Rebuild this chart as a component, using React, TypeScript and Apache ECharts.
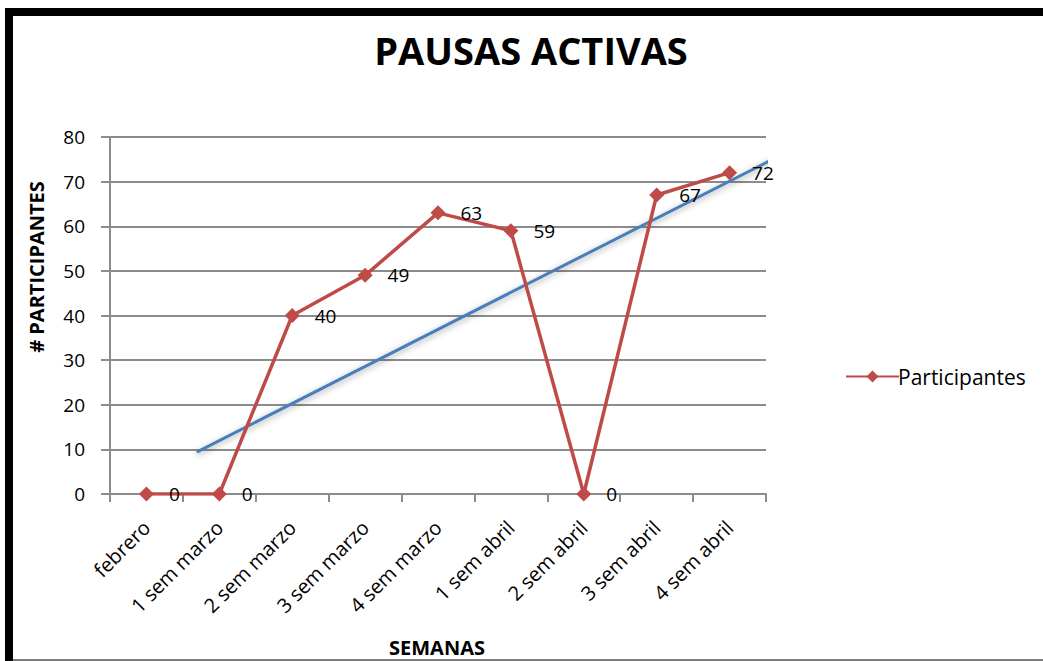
import React, { useEffect, useRef } from "react";
import * as echarts from "echarts";

const categories = [
  "febrero",
  "1 sem marzo",
  "2 sem marzo",
  "3 sem marzo",
  "4 sem marzo",
  "1 sem abril",
  "2 sem abril",
  "3 sem abril",
  "4 sem abril",
];
const participantes = [0, 0, 40, 49, 63, 59, 0, 67, 72];
// hand-drawn trend line endpoints: [category position, value]
const trendLine = [
  [0.69, 9.4],
  [8.82, 76.9],
];
const yTicks = { min: 0, max: 80, interval: 10 };

const FONT = "'Open Sans', 'Noto Sans', sans-serif";

export default function App() {
  const ref = useRef<HTMLDivElement>(null);
  useEffect(() => {
    document.body.style.margin = "0";
    const chart = echarts.init(ref.current!, null, { renderer: "svg" });
    const grid = { left: 110, right: 277, top: 137, bottom: 167, outerBoundsMode: "none", containLabel: false };
    chart.setOption({
      animation: false,
      backgroundColor: "#ffffff",
      title: {
        text: "PAUSAS ACTIVAS",
        left: 526,
        top: 26,
        textAlign: "center",
        textStyle: {
          fontFamily: FONT,
          fontWeight: "bold",
          fontSize: 38,
          color: "#000",
        },
      },
      legend: {
        data: ["Participantes"],
        left: 840,
        top: 361,
        orient: "vertical",
        itemWidth: 53,
        itemHeight: 15,
        itemGap: 4,
        textStyle: { fontFamily: FONT, fontSize: 21, color: "#000", padding: [0, 0, 0, -6] },
      },
      grid: grid,
      xAxis: [
        {
          type: "category",
          data: categories,
          boundaryGap: true,
          axisLine: { onZero: false, lineStyle: { color: "#8c8c8c", width: 2 } },
          axisTick: { show: true, length: 8, interval: 0, lineStyle: { color: "#8c8c8c", width: 2 } },
          axisLabel: {
            interval: 0,
            rotate: 45,
            margin: 30,
            fontFamily: FONT,
            fontSize: 20,
            color: "#000",
          },
        },
        {
          type: "value",
          min: -0.5,
          max: 8.5,
          show: false,
        },
      ],
      yAxis: {
        type: "value",
        min: yTicks.min,
        max: yTicks.max,
        interval: yTicks.interval,
        axisLine: { show: true, onZero: false, lineStyle: { color: "#8c8c8c", width: 2 } },
        axisTick: { show: true, length: 9, lineStyle: { color: "#8c8c8c", width: 2 } },
        axisLabel: { fontFamily: FONT, fontSize: 19, color: "#000", margin: 25 },
        splitLine: { show: true, lineStyle: { color: "#8c8c8c", width: 2 } },
      },
      series: [
        {
          name: "trend",
          type: "line",
          xAxisIndex: 1,
          data: trendLine,
          clip: false,
          symbol: "none",
          z: 1,
          lineStyle: {
            color: "#4a7ebb",
            width: 3,
            shadowColor: "rgba(0,0,0,0.35)",
            shadowBlur: 6,
            shadowOffsetY: 2,
          },
          silent: true,
        },
        {
          name: "Participantes",
          type: "line",
          data: participantes,
          symbol: "diamond",
          symbolSize: 15,
          z: 3,
          itemStyle: { color: "#be4b48" },
          lineStyle: { color: "#be4b48", width: 3.5 },
          label: {
            show: true,
            position: "right",
            distance: 15,
            fontFamily: FONT,
            fontSize: 19,
            color: "#000",
          },
        },
      ],
      graphic: [
        { type: "rect", shape: { x: 5, y: 8, width: 1043, height: 8 }, style: { fill: "#000" } },
        { type: "rect", shape: { x: 5, y: 8, width: 8, height: 661 }, style: { fill: "#000" } },
        { type: "rect", shape: { x: 13, y: 659, width: 1043, height: 2 }, style: { fill: "#7f7f7f" } },
        {
          type: "text",
          x: 36,
          y: 267,
          rotation: Math.PI / 2,
          style: {
            text: "# PARTICIPANTES",
            fontFamily: FONT,
            fontWeight: "bold",
            fontSize: 20,
            fill: "#000",
            align: "center",
            verticalAlign: "middle",
          },
        },
        {
          type: "text",
          x: 437,
          y: 647,
          style: {
            text: "SEMANAS",
            fontFamily: FONT,
            fontWeight: "bold",
            fontSize: 20,
            fill: "#000",
            align: "center",
            verticalAlign: "middle",
          },
        },
      ],
    });
    return () => chart.dispose();
  }, []);
  return <div ref={ref} style={{ width: 1043, height: 661 }} />;
}
